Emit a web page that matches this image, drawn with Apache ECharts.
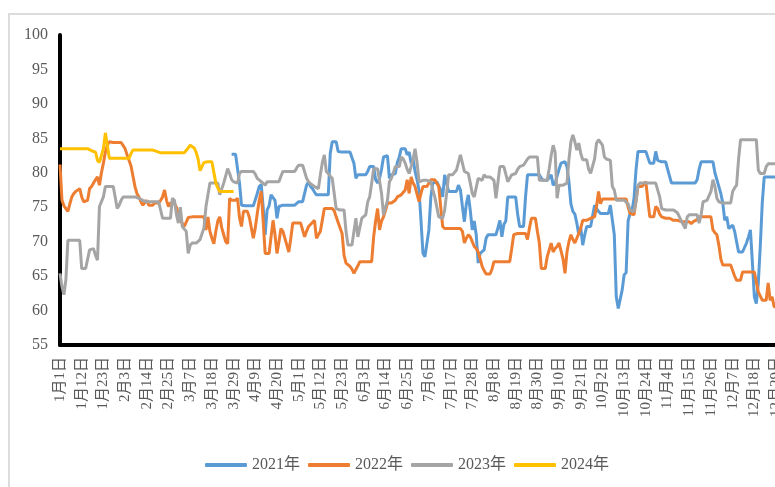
<!DOCTYPE html>
<html style="height: 100%">
<head>
    <meta charset="UTF-8">
    <script type="text/javascript" src="https://cdn.jsdelivr.net/npm/echarts@6/dist/echarts.min.js"></script>
    <style type="text/css">
        body {margin:0; padding:0; overflow:hidden; height:100%; background:#fff}
        #frame {position:absolute; left:8px; top:13px; width:900px; height:600px; border:2px solid #dcdcdc}
        #container {position:absolute; left:0; top:0; width:812px; height:487px}
    </style>
</head>
<body>
    <div id="frame"></div>
    <div id="container"></div>
<script>
    // 闰年日期 1月1日 ... 12月31日
    var monthDays = [31, 29, 31, 30, 31, 30, 31, 31, 30, 31, 30, 31];
    var dates = [];
    monthDays.forEach(function (n, m) {
        for (var d = 1; d <= n; d++) dates.push((m + 1) + '月' + d + '日');
    });

    var seriesNames = ['2021年', '2022年', '2023年', '2024年'];
    var colors = ['#5B9BD5', '#ED7D31', '#A5A5A5', '#FFC000'];

    // 2021年 从 3月28日(第87天) 开始有数据
    var start2021 = 87;
    var data2021 = [
        82.7, 82.7, 82.7,
        82.7, 78.5, 75.3, 75.2, 75.2, 75.2, 75.2, 75.2, 75.2, 75.2,
        77.0, 78.0, 78.3, 75.0, 71.0, 74.6, 75.2, 76.8, 76.8, 76.0,
        73.4, 75.1, 75.3, 75.3, 75.3, 75.3, 75.3, 75.3, 75.3, 75.3,
        75.5, 75.8, 75.8, 75.8, 75.8, 78.2, 78.7, 78.0, 77.7, 77.2,
        76.8, 76.8, 76.8, 76.8, 76.8, 76.8, 76.8, 82.8, 84.5, 84.5,
        84.5, 83.1, 83.0, 83.0, 83.0, 83.0, 83.0, 83.0, 83.0, 81.4,
        79.2, 79.7, 79.7, 79.7, 79.7, 79.7, 80.2, 80.9, 80.9, 80.9,
        79.0, 78.5, 79.2, 80.5, 82.3, 82.5, 82.5, 79.2, 79.7, 79.8,
        79.9, 81.5, 82.3, 83.5, 83.5, 83.5, 82.6, 83.0, 81.4, 82.0,
        80.2, 79.0, 77.5, 73.1, 68.3, 67.8, 67.8, 71.7, 76.5, 78.5,
        78.7, 78.7, 78.7, 77.5, 76.5, 79.7, 79.5, 77.3, 77.3, 77.3,
        77.3, 77.3, 78.2, 77.5, 75.1, 72.9, 75.5, 76.8, 74.5, 71.7,
        73.0, 71.0, 66.9, 68.3, 68.5, 68.8, 70.5, 71.0, 71.0, 71.0,
        71.0, 71.0, 72.0, 73.1, 70.7, 72.5, 73.0, 76.5, 76.5, 76.5,
        76.5, 76.5, 74.0, 72.2, 72.2, 72.2, 76.5, 79.7, 79.7, 79.7,
        79.7, 79.7, 79.7, 79.7, 79.2, 78.9, 78.9, 78.9, 78.9, 79.7,
        78.2, 78.5, 78.7, 80.5, 81.4, 81.6, 81.6, 80.9, 78.7, 75.5,
        74.4, 74.0, 72.7, 71.0, 72.0, 69.5, 71.0, 72.2, 72.2, 72.2,
        72.2, 75.3, 74.8, 74.4, 74.1, 74.1, 74.1, 74.1, 74.1, 75.3,
        75.2, 71.0, 62.0, 60.3, 60.3, 63.0, 65.2, 65.5, 73.0, 74.1,
        74.5, 76.3, 80.4, 83.1, 83.1, 83.1, 83.1, 83.1, 83.1, 81.4,
        81.4, 81.4, 83.1, 81.8, 81.6, 81.6, 81.6, 81.6, 81.6, 79.5,
        78.5, 78.5, 78.5, 78.5, 78.5, 78.5, 78.5, 78.5, 78.5, 78.5,
        78.5, 78.5, 78.5, 79.0, 80.5, 81.6, 81.6, 81.6, 81.6, 81.6,
        81.6, 81.6, 80.0, 79.0, 78.0, 77.0, 75.6, 73.1, 73.6, 71.9,
        71.7, 72.4, 71.5, 70.0, 68.5, 68.5, 68.5, 68.5, 69.8, 70.7,
        71.7, 67.0, 62.0, 61.0, 64.0, 69.3, 75.6, 79.4, 79.4, 79.4,
        79.4, 79.4, 79.4, 79.4, 79.4, 79.4
    ];

    var data2022 = [
        81.2, 76.0, 75.2, 74.8, 74.4, 75.5, 76.5, 77.0, 77.3, 77.3,
        77.7, 76.5, 75.8, 76.0, 76.0, 77.7, 78.0, 78.5, 79.0, 79.4,
        78.2, 80.0, 81.4, 83.0, 84.0, 84.5, 84.4, 84.4, 84.4, 84.4,
        84.4, 84.4, 84.4, 83.5, 82.6, 82.6, 81.0, 79.5, 78.0, 77.0,
        76.5, 75.8, 75.3, 75.1, 76.0, 75.3, 75.3, 75.3, 75.6, 75.6,
        75.6, 76.0, 76.5, 77.5, 76.0, 75.1, 75.6, 75.6, 75.6, 75.0,
        74.1, 73.1, 73.1, 72.2, 72.2, 73.5, 73.6, 73.6, 73.6, 73.6,
        73.6, 73.6, 73.6, 73.6, 71.7, 73.6, 71.5, 70.5, 69.7, 71.5,
        73.0, 73.6, 72.0, 71.0, 70.0, 69.7, 76.3, 76.0, 76.0, 76.0,
        76.3, 73.5, 72.2, 74.4, 74.4, 74.4, 73.5, 72.0, 70.5, 72.0,
        74.1, 76.0, 77.3, 73.0, 68.3, 68.3, 68.3, 68.3, 73.1, 71.0,
        68.3, 70.0, 71.9, 71.5, 70.5, 69.5, 68.5, 70.5, 72.7, 72.7,
        72.7, 72.7, 72.7, 72.7, 70.7, 71.5, 72.2, 72.5, 72.5, 73.1,
        70.5, 71.0, 71.5, 71.7, 74.8, 74.8, 74.8, 74.8, 74.8, 74.5,
        73.6, 72.8, 72.0, 71.2, 68.0, 66.9, 66.7, 66.4, 66.0, 65.4,
        65.4, 66.5, 67.1, 67.1, 67.1, 67.1, 67.1, 67.1, 67.1, 70.7,
        73.0, 74.8, 71.7, 73.0, 73.6, 74.5, 75.6, 75.6, 75.6, 75.6,
        76.0, 76.5, 76.5, 76.8, 76.8, 77.5, 79.0, 77.0, 79.4, 78.5,
        78.0, 78.0, 75.8, 77.0, 78.0, 78.0, 78.0, 78.0, 79.0, 79.0,
        79.0, 79.0, 78.0, 75.0, 72.2, 71.9, 71.9, 71.9, 71.9, 71.9,
        71.9, 71.9, 71.9, 71.9, 71.5, 69.8, 70.5, 71.0, 70.7, 70.0,
        69.3, 69.0, 68.5, 67.5, 66.4, 65.8, 65.3, 65.3, 65.3, 66.0,
        67.1, 67.1, 67.1, 67.1, 67.1, 67.1, 67.1, 67.1, 67.1, 69.0,
        71.0, 71.2, 71.2, 71.2, 71.2, 71.2, 71.2, 70.3, 72.0, 73.4,
        73.4, 73.4, 71.5, 69.8, 66.1, 66.1, 66.1, 67.8, 68.8, 69.8,
        68.5, 69.0, 69.3, 69.8, 69.8, 67.5, 65.4, 68.5, 70.0, 71.0,
        70.3, 69.8, 70.5, 71.2, 72.0, 73.1, 73.1, 73.1, 73.1, 73.4,
        73.6, 73.6, 75.1, 77.3, 75.5, 76.2, 76.2, 76.2, 76.2, 76.2,
        76.2, 76.2, 76.2, 76.2, 76.2, 76.2, 76.2, 76.2, 75.0, 74.1,
        73.9, 73.9, 73.9, 78.0, 78.0, 78.0, 78.2, 78.7, 76.0, 73.6,
        73.6, 73.6, 75.1, 74.8, 74.0, 73.6, 73.4, 73.4, 73.4, 73.4,
        73.4, 73.1, 73.1, 73.1, 73.1, 72.9, 72.9, 72.9, 72.9, 72.9,
        72.6, 72.9, 72.9, 73.2, 73.6, 73.6, 73.6, 73.6, 73.6, 73.6,
        73.6, 71.7, 71.3, 71.0, 69.5, 67.5, 66.6, 66.6, 66.6, 66.6,
        66.6, 66.6, 65.0, 64.4, 64.4, 64.4, 65.6, 65.6, 65.6, 65.6,
        65.6, 65.6, 65.6, 65.6, 62.7, 62.7, 61.5, 61.5, 61.5, 64.0,
        61.5, 62.0, 60.6, 60.5, 60.3, 60.5
    ];

    var data2023 = [
        65.4, 63.5, 62.3, 64.5, 70.2, 70.2, 70.2, 70.2, 70.2, 70.2,
        70.2, 66.1, 66.1, 66.1, 66.1, 68.8, 69.0, 69.0, 68.0, 67.3,
        75.1, 75.3, 76.5, 78.0, 78.0, 78.0, 78.0, 78.0, 78.0, 74.8,
        75.3, 76.0, 76.5, 76.5, 76.5, 76.5, 76.5, 76.5, 76.5, 76.5,
        76.3, 76.3, 76.0, 76.0, 75.8, 75.8, 75.8, 75.8, 75.8, 75.8,
        75.8, 75.8, 73.4, 73.4, 73.4, 73.4, 73.4, 76.3, 76.0, 74.0,
        72.7, 75.0, 72.2, 72.0, 71.5, 68.3, 69.5, 69.8, 69.8, 69.8,
        69.8, 70.3, 70.5, 72.0, 75.1, 75.3, 78.5, 78.5, 78.5, 78.5,
        78.5, 76.8, 76.8, 78.5, 78.3, 80.6, 79.9, 79.0, 78.7, 78.6,
        78.5, 79.9, 80.2, 80.2, 80.2, 80.2, 80.2, 80.2, 80.2, 79.8,
        79.2, 79.0, 78.7, 78.5, 78.2, 78.7, 78.7, 78.7, 78.7, 78.7,
        78.7, 78.7, 79.5, 80.2, 80.2, 80.2, 80.2, 80.2, 80.2, 80.2,
        80.7, 81.1, 81.1, 81.1, 81.1, 79.2, 78.7, 78.4, 78.2, 78.0,
        77.9, 77.7, 79.7, 81.5, 82.6, 80.2, 79.9, 79.5, 79.2, 79.2,
        74.8, 74.6, 74.6, 74.6, 74.6, 71.5, 69.5, 69.5, 69.5, 69.5,
        73.4, 70.7, 70.5, 73.4, 73.6, 73.9, 75.8, 76.5, 78.5, 80.6,
        80.6, 80.6, 80.6, 77.0, 73.9, 73.9, 76.0, 78.7, 79.2, 80.0,
        80.9, 80.9, 80.9, 82.3, 82.0, 81.4, 80.5, 79.9, 80.9, 82.0,
        83.5, 81.5, 78.7, 78.9, 78.9, 78.9, 78.9, 78.9, 78.7, 77.5,
        76.5, 76.5, 73.6, 73.4, 73.4, 74.6, 77.0, 79.7, 79.7, 79.7,
        79.7, 80.4, 81.5, 82.6, 82.6, 80.2, 80.0, 79.9, 78.5, 77.0,
        76.5, 76.5, 79.2, 79.0, 78.9, 79.7, 79.4, 79.4, 79.4, 79.4,
        78.9, 76.3, 76.5, 80.9, 80.9, 80.9, 80.9, 78.7, 78.7, 79.7,
        79.9, 79.9, 80.5, 80.9, 81.1, 81.1, 81.1, 82.0, 82.3, 82.3,
        82.3, 82.3, 82.3, 78.9, 78.9, 78.9, 78.9, 78.9, 80.6, 82.5,
        84.0, 83.0, 76.3, 78.2, 78.2, 78.2, 78.2, 78.5, 81.9, 84.5,
        85.5, 84.5, 83.3, 84.3, 82.8, 81.9, 81.9, 81.9, 80.5, 79.9,
        79.9, 82.0, 84.3, 84.8, 84.8, 84.0, 82.3, 82.0, 82.0, 81.8,
        78.0, 77.5, 76.0, 76.0, 76.0, 76.0, 76.0, 76.0, 75.5, 74.6,
        74.4, 74.4, 75.8, 78.2, 78.5, 78.5, 78.5, 78.5, 78.5, 78.5,
        78.5, 78.5, 78.5, 78.5, 76.5, 74.8, 74.6, 74.6, 74.6, 74.6,
        74.6, 74.6, 74.6, 74.2, 73.6, 73.0, 72.9, 71.9, 73.6, 73.9,
        73.9, 73.9, 73.9, 73.9, 72.7, 73.9, 75.8, 76.0, 76.0, 76.0,
        77.3, 79.0, 78.0, 76.3, 75.8, 75.6, 75.6, 75.6, 75.6, 75.6,
        75.6, 77.3, 77.8, 78.2, 82.0, 84.8, 84.8, 84.8, 84.8, 84.8,
        84.8, 84.8, 84.8, 84.8, 80.4, 79.9, 79.9, 79.9, 80.9, 81.3,
        81.3, 81.3, 81.3, 81.3, 81.3, 81.3
    ];

    // 2024年 只到 3月29日
    var data2024 = [
        83.5, 83.5, 83.5, 83.5, 83.5, 83.5, 83.5, 83.5, 83.5, 83.5,
        83.5, 83.5, 83.5, 83.5, 83.5, 83.3, 83.2, 83.1, 83.0, 81.8,
        81.5, 81.6, 83.5, 85.8, 84.0, 82.1, 82.1, 82.1, 82.1, 82.1,
        82.1, 82.1, 82.1, 82.1, 82.1, 82.1, 82.8, 83.3, 83.3, 83.3,
        83.3, 83.3, 83.3, 83.3, 83.3, 83.3, 83.3, 83.3, 83.3, 83.1,
        82.9, 82.9, 82.9, 82.9, 82.9, 82.9, 82.9, 82.9, 82.9, 82.9,
        82.9, 82.9, 82.9, 82.9, 82.9, 83.6, 84.0, 84.0, 83.6, 83.0,
        82.0, 80.3, 80.2, 81.5, 81.6, 81.6, 81.6, 81.6, 81.6, 78.5,
        77.8, 77.3, 77.3, 77.3, 77.3, 77.3, 77.3, 77.3, 77.3
    ];

    var full2021 = [];
    for (var k = 0; k < start2021; k++) full2021.push(null);
    full2021 = full2021.concat(data2021);
    var allData = [full2021, data2022, data2023, data2024];

    var serifFont = '"Liberation Serif", "Times New Roman", "Noto Sans CJK SC", serif';

    var myChart = echarts.init(document.getElementById('container'));
    var option = {
        animation: false,
        color: colors,
        grid: {
            left: 60,
            top: 35,
            right: 32,
            bottom: 142
        },
        legend: {
            left: 200,
            top: 452,
            icon: 'roundRect',
            itemWidth: 42,
            itemHeight: 4,
            itemGap: 8,
            textStyle: {
                fontFamily: serifFont,
                fontSize: 16,
                color: '#595959'
            },
            data: seriesNames
        },
        xAxis: {
            type: 'category',
            boundaryGap: false,
            data: dates,
            axisLine: {lineStyle: {color: '#000', width: 4}},
            axisTick: {show: false},
            axisLabel: {
                interval: 10,
                rotate: 90,
                margin: 12,
                fontFamily: serifFont,
                fontSize: 15,
                color: '#595959'
            },
            splitLine: {show: false}
        },
        yAxis: {
            type: 'value',
            min: 55,
            max: 100,
            interval: 5,
            axisLine: {show: true, lineStyle: {color: '#000', width: 4}},
            axisTick: {show: false},
            axisLabel: {
                margin: 12,
                fontFamily: serifFont,
                fontSize: 16,
                color: '#595959'
            },
            splitLine: {show: false}
        },
        series: seriesNames.map(function (name, i) {
            return {
                name: name,
                type: 'line',
                data: allData[i],
                symbol: 'none',
                lineStyle: {width: 3, color: colors[i]}
            };
        })
    };
    myChart.setOption(option);
</script>
</body>
</html>
